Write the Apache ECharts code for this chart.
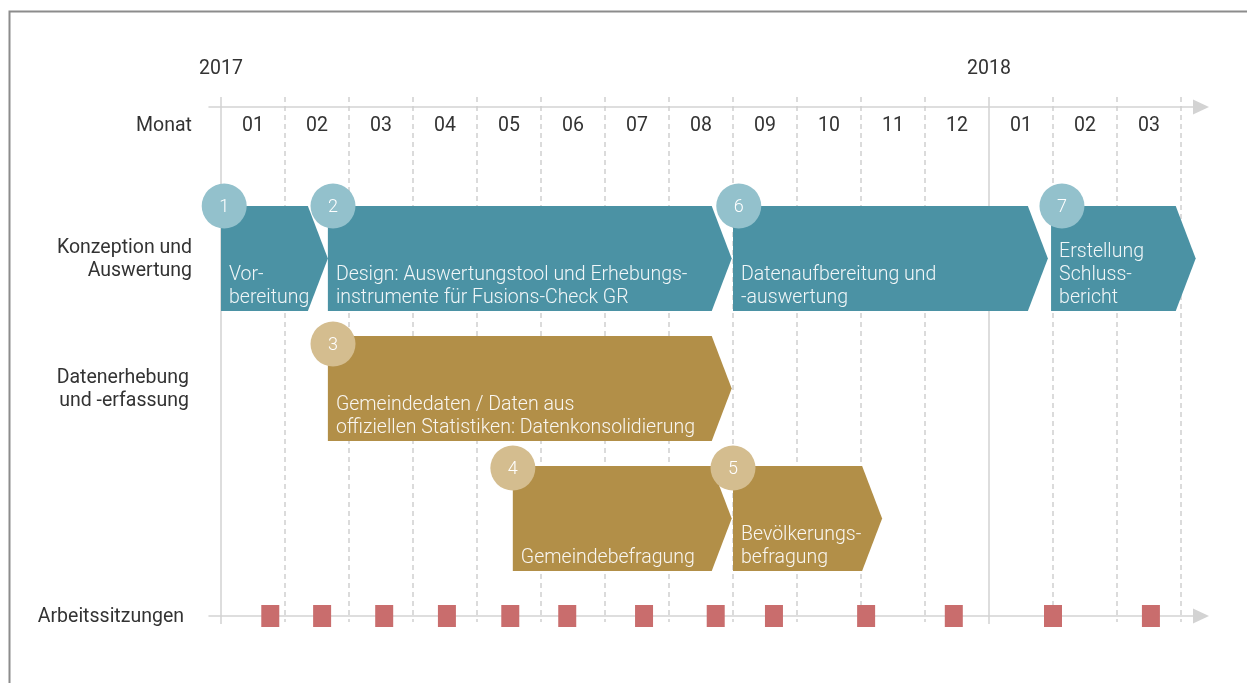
<!DOCTYPE html>
<html lang="de">
<head>
<meta charset="utf-8">
<title>Zeitplan Fusions-Check GR</title>
<script src="https://cdn.jsdelivr.net/npm/echarts@6/dist/echarts.min.js"></script>
<style>
  html, body { margin: 0; padding: 0; background: #fff; }
  #chart { width: 1247px; height: 683px; }
</style>
</head>
<body>
<div id="chart"></div>
<script>
// x = months counted from start of Jan 2017 (0) to end of Mar 2018 (15)
var monthLabels = ['01', '02', '03', '04', '05', '06', '07', '08', '09', '10', '11', '12', '01', '02', '03'];
var yearLabels = ['2017', '2018'];
var yearStarts = [0, 12];
var monthEdges = [0, 1, 2, 3, 4, 5, 6, 7, 8, 9, 10, 11, 12, 13, 14, 15];
var solidEdges = [0, 12];

// y = lanes
var rowLabels = ['Konzeption und\nAuswertung', 'Datenerhebung\nund -erfassung', 'Arbeitssitzungen'];
var rowLanes = [0, 1, 2.75];

var taskNo = [1, 2, 3, 4, 5, 6, 7];
var taskText = [
    'Vor-\nbereitung',
    'Design: Auswertungstool und Erhebungs-\ninstrumente für Fusions-Check GR',
    'Gemeindedaten / Daten aus\noffiziellen Statistiken: Datenkonsolidierung',
    'Gemeindebefragung',
    'Bevölkerungs-\nbefragung',
    'Datenaufbereitung und\n-auswertung',
    'Erstellung\nSchluss-\nbericht'
];
var taskStart = [0, 1.67, 1.67, 4.56, 8.0, 8.0, 12.97];
var taskEnd = [1.67, 7.98, 7.98, 7.98, 10.33, 12.92, 15.23];
var taskLane = [0, 0, 1, 2, 2, 0, 0];
var taskGroup = ['K', 'K', 'D', 'D', 'D', 'K', 'K'];
var taskMilestone = [0.05, 1.75, 1.75, 4.56, 8.0, 8.09, 13.14];

var meetings = [0.77, 1.58, 2.55, 3.53, 4.52, 5.41, 6.61, 7.73, 8.64, 10.08, 11.45, 13.0, 14.53];
var meetingLane = 2.75;

// ---- layout / style ----
var X_MIN = -0.1875, X_MAX = 15.3125;
var Y_MIN = -1.2423, Y_MAX = 2.8115;
var BAR_H = 105 / 130;
var ARROW_D = 20;
var circleDrop = [0, 8, 2];
var rowGap = [17, 17, 20, 25];   // Monat, Konzeption, Datenerhebung, Arbeitssitzungen
var FONT = 'Roboto, "Noto Sans", sans-serif';
var FS = '19.5px ';
var TEXT = '#333333';
var colors = {
    K: { bar: '#4B92A4', dot: '#93C1CC' },
    D: { bar: '#B28F48', dot: '#D4BD8F' }
};

function renderEdge(params, api) {
    var x = api.value(0);
    var a = api.coord([x, Y_MIN]);
    var b = api.coord([x, Y_MAX]);
    var solid = solidEdges.indexOf(x) >= 0;
    return {
        type: 'line',
        shape: { x1: a[0], y1: a[1], x2: b[0], y2: solid ? b[1] : b[1] - 2 },
        style: { stroke: solid ? '#d2d2d2' : '#d0d0d0', lineWidth: 1.5, lineDash: solid ? null : [5, 4] }
    };
}

function renderMonth(params, api) {
    var p = api.coord([api.value(0), Y_MIN]);
    return {
        type: 'text', x: p[0], y: p[1] + 29,
        style: { text: monthLabels[api.value(1)], fill: TEXT, font: FS + FONT, align: 'center', verticalAlign: 'middle' }
    };
}

function renderYear(params, api) {
    var p = api.coord([api.value(0), Y_MIN]);
    return {
        type: 'text', x: p[0], y: p[1] - 28,
        style: { text: yearLabels[api.value(1)], fill: TEXT, font: FS + FONT, align: 'center', verticalAlign: 'middle' }
    };
}

function renderRow(params, api) {
    var i = api.value(1);
    var p = api.coord([X_MIN, api.value(0)]);
    return {
        type: 'text', x: p[0] - rowGap[i + 1], y: p[1] + 1,
        style: { text: i < 0 ? 'Monat' : rowLabels[i], fill: TEXT, font: FS + FONT, lineHeight: 23, align: 'right', verticalAlign: 'middle' }
    };
}

function renderTask(params, api) {
    var i = api.value(3);
    var lane = api.value(2);
    var p0 = api.coord([api.value(0), lane]);
    var p1 = api.coord([api.value(1), lane]);
    var h = api.size([0, BAR_H])[1];
    var top = p0[1] - h / 2, bot = p0[1] + h / 2;
    return {
        type: 'group',
        children: [{
            type: 'polygon',
            shape: { points: [[p0[0], top], [p1[0] - ARROW_D, top], [p1[0], p0[1]], [p1[0] - ARROW_D, bot], [p0[0], bot]] },
            style: { fill: colors[taskGroup[i]].bar }
        }, {
            type: 'text', x: p0[0] + 8, y: bot - 1,
            style: { text: taskText[i], fill: 'rgba(255,255,255,0.92)', font: '300 ' + FS + FONT, lineHeight: 23, align: 'left', verticalAlign: 'bottom' }
        }]
    };
}

function renderDot(params, api) {
    var i = api.value(2);
    var lane = api.value(1);
    var h = api.size([0, BAR_H])[1];
    var p = api.coord([api.value(0), lane]);
    var cy = p[1] - h / 2 + circleDrop[lane];
    return {
        type: 'group',
        children: [{
            type: 'circle', shape: { cx: p[0], cy: cy, r: 22.5 },
            style: { fill: colors[taskGroup[i]].dot }
        }, {
            type: 'text', x: p[0], y: cy + 1,
            style: { text: String(taskNo[i]), fill: '#ffffff', font: '300 18px ' + FONT, align: 'center', verticalAlign: 'middle' }
        }]
    };
}

var axisCommon = {
    type: 'value', min: X_MIN, max: X_MAX,
    axisTick: { show: false }, axisLabel: { show: false }, splitLine: { show: false },
    axisLine: { show: true, onZero: false, symbol: ['none', 'triangle'], symbolSize: [15, 16], lineStyle: { color: '#d3d3d3', width: 1.5 } }
};

var option = {
    animation: false,
    backgroundColor: '#ffffff',
    grid: { left: 209, right: 46, top: 97, bottom: 59 },
    graphic: [{
        type: 'rect', left: 7, top: 9,
        shape: { width: 1400, height: 800 },
        style: { fill: 'none', stroke: '#8c8c8c', lineWidth: 2 }
    }],
    xAxis: [
        Object.assign({}, axisCommon, { position: 'top', offset: -10 }),
        Object.assign({}, axisCommon, { position: 'bottom', offset: -8 })
    ],
    yAxis: { type: 'value', inverse: true, min: Y_MIN, max: Y_MAX, show: false },
    series: [{
        type: 'custom', name: 'grid', clip: false, z: 1,
        renderItem: renderEdge,
        data: monthEdges.map(function (m) { return [m, 0]; })
    }, {
        type: 'custom', name: 'months', clip: false,
        renderItem: renderMonth,
        data: monthLabels.map(function (t, i) { return [i + 0.5, i]; })
    }, {
        type: 'custom', name: 'years', clip: false,
        renderItem: renderYear,
        data: yearStarts.map(function (m, i) { return [m, i]; })
    }, {
        type: 'custom', name: 'rows', clip: false,
        renderItem: renderRow,
        data: [[Y_MIN + 28 / 130, -1]].concat(rowLanes.map(function (l, i) { return [l, i]; })),
        encode: { x: -1, y: 0 }
    }, {
        type: 'custom', name: 'tasks', clip: false, z: 3,
        renderItem: renderTask,
        encode: { x: [0, 1], y: 2 },
        data: taskNo.map(function (n, i) { return [taskStart[i], taskEnd[i], taskLane[i], i]; })
    }, {
        type: 'custom', name: 'milestones', clip: false, z: 4,
        renderItem: renderDot,
        encode: { x: 0, y: 1 },
        data: taskNo.map(function (n, i) { return [taskMilestone[i], taskLane[i], i]; })
    }, {
        type: 'scatter', name: 'Arbeitssitzungen', z: 5,
        symbol: 'rect', symbolSize: [18, 22],
        itemStyle: { color: '#C96D6D', opacity: 1 },
        data: meetings.map(function (m) { return [m, meetingLane]; })
    }]
};

var chart = echarts.init(document.getElementById('chart'));
chart.setOption(option);
</script>
</body>
</html>
